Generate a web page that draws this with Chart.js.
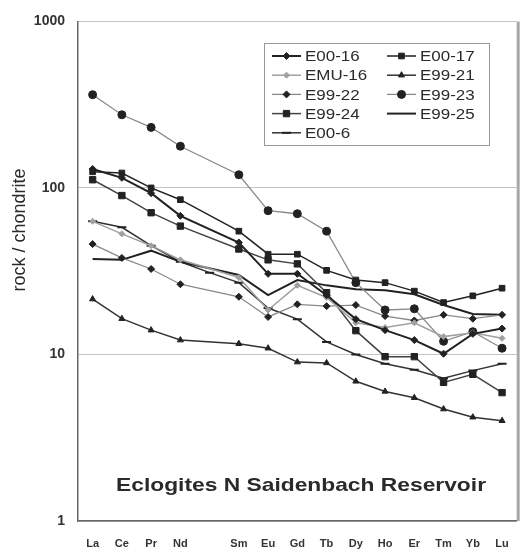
<!DOCTYPE html>
<html lang="en">
<head>
  <meta charset="UTF-8">
  <title>Eclogites N Saidenbach Reservoir</title>
  <script src="https://cdn.jsdelivr.net/npm/chart.js"></script>
  <style>
    body { margin: 0; background: #fff; }
    canvas { display: block; }
  </style>
</head>
<body>
  <canvas id="reeChart" width="525" height="553"></canvas>

  <script>
    // REE order, blank slot is Pm
    const elements = ['La', 'Ce', 'Pr', 'Nd', '', 'Sm', 'Eu', 'Gd', 'Tb', 'Dy', 'Ho', 'Er', 'Tm', 'Yb', 'Lu'];
    const yTicks = [1, 10, 100, 1000];

    const e00_16 = [130, 115, 93, 68, null, 47, 30.5, 30.5, 22.7, 16.3, 14, 12.2, 10.1, 13.3, 14.3];
    const e00_17 = [125, 123, 100, 85, null, 55, 40, 40, 32, 28, 27, 24, 20.5, 22.5, 25];
    const emu_16 = [63, 53, 45, 37, null, 29, 18.5, 26, 22, 15.5, 14.5, 15.5, 12.8, 13.5, 12.5];
    const e99_21 = [21.5, 16.4, 14, 12.2, null, 11.6, 10.9, 9, 8.9, 6.9, 6, 5.5, 4.7, 4.2, 4.0];
    const e99_22 = [46, 38, 32.6, 26.4, null, 22.2, 16.8, 20, 19.5, 19.8, 17, 16, 17.3, 16.4, 17.3];
    const e99_23 = [363, 275, 231, 178, null, 120, 73, 70, 55, 27, 18.5, 18.8, 12, 13.7, 10.9];
    const e99_24 = [112, 90, 71, 59, null, 43, 37, 35, 23.5, 13.9, 9.7, 9.7, 6.8, 7.6, 5.9];
    const e99_25 = [37.4, 37, 42, 36, null, 30, 22.7, 28, 26, 24.6, 24.3, 23, 19.8, 17.5, 17.3];
    const e00_6 = [63, 58, 45, 36, 31, 27, 19, 16.3, 11.9, 10, 8.8, 8.1, 7.2, 8, 8.8];

    const chartTitle = 'Eclogites N Saidenbach Reservoir';
    const yTitle = 'rock / chondrite';

    const dark = '#222';
    const grey = '#8a8a8a';
    const font = '"Liberation Sans", Arial, sans-serif';

    function series(label, data, line, lineWidth, style, radius, markColor) {
      return {
        label: label,
        data: data,
        borderColor: line,
        borderWidth: lineWidth,
        pointStyle: style,
        pointRadius: radius,
        pointBackgroundColor: markColor,
        pointBorderColor: markColor,
        pointBorderWidth: style === 'line' ? 2 : 1,
        spanGaps: true,
        tension: 0
      };
    }

    const datasets = [
      series('E00-16', e00_16, dark, 2, 'rectRot', 3.5, dark),
      series('E00-17', e00_17, dark, 1.5, 'rect', 4, dark),
      series('EMU-16', emu_16, '#a0a0a0', 1.5, 'rectRot', 3, '#a0a0a0'),
      series('E99-21', e99_21, '#333', 1.5, 'triangle', 3.5, dark),
      series('E99-22', e99_22, grey, 1.3, 'rectRot', 3.5, dark),
      series('E99-23', e99_23, grey, 1.3, 'circle', 4, dark),
      series('E99-24', e99_24, '#444', 1.5, 'rect', 4.5, dark),
      series('E99-25', e99_25, dark, 2, 'circle', 0, dark),
      series('E00-6', e00_6, '#333', 1.5, 'line', 4.5, dark)
    ];

    // text drawn a little wider, like the reference
    function wideText(ctx, text, x, y, sx) {
      ctx.save();
      ctx.translate(x, y);
      ctx.scale(sx, 1);
      ctx.fillText(text, 0, 0);
      ctx.restore();
    }

    // legend box, title text and y title drawn by hand
    const extras = {
      id: 'extras',
      afterDraw(chart) {
        const ctx = chart.ctx;
        const area = chart.chartArea;
        ctx.save();

        // right frame edge
        ctx.strokeStyle = '#a8a8a8';
        ctx.lineWidth = 3;
        ctx.beginPath();
        ctx.moveTo(area.right + 1.5, area.top);
        ctx.lineTo(area.right + 1.5, area.bottom);
        ctx.stroke();

        // title inside plot
        ctx.fillStyle = '#2a2a2a';
        ctx.font = 'bold 19px ' + font;
        ctx.textAlign = 'center';
        ctx.textBaseline = 'middle';
        wideText(ctx, chartTitle, 301, 486, 1.2);

        // y axis title
        ctx.save();
        ctx.translate(20, 230);
        ctx.rotate(-Math.PI / 2);
        ctx.font = '18px ' + font;
        ctx.fillText(yTitle, 0, 0);
        ctx.restore();

        // legend
        const box = { x: 264, y: 43, w: 225, h: 102 };
        ctx.fillStyle = '#fff';
        ctx.fillRect(box.x, box.y, box.w, box.h);
        ctx.strokeStyle = '#999';
        ctx.lineWidth = 1;
        ctx.strokeRect(box.x + 0.5, box.y + 0.5, box.w, box.h);

        ctx.font = '15px ' + font;
        ctx.textAlign = 'left';
        chart.data.datasets.forEach((ds, i) => {
          const col = i % 2;
          const row = Math.floor(i / 2);
          const x0 = col === 0 ? 272 : 387;
          const y = 56 + row * 19.2;
          ctx.strokeStyle = ds.borderColor;
          ctx.lineWidth = ds.borderWidth;
          ctx.beginPath();
          ctx.moveTo(x0, y);
          ctx.lineTo(x0 + 29, y);
          ctx.stroke();
          if (ds.pointRadius > 0) {
            ctx.fillStyle = ds.pointBackgroundColor;
            ctx.strokeStyle = ds.pointBorderColor;
            ctx.lineWidth = ds.pointBorderWidth;
            Chart.helpers.drawPoint(ctx, {
              pointStyle: ds.pointStyle,
              radius: ds.pointRadius,
              rotation: 0,
              borderWidth: ds.pointBorderWidth
            }, x0 + 14.5, y);
          }
          ctx.fillStyle = '#2a2a2a';
          wideText(ctx, ds.label, x0 + 33, y + 1, 1.13);
        });

        ctx.restore();
      }
    };

    const ctx = document.getElementById('reeChart').getContext('2d');

    new Chart(ctx, {
      type: 'line',
      data: {
        labels: elements,
        datasets: datasets
      },
      options: {
        responsive: false,
        maintainAspectRatio: false,
        animation: false,
        layout: { padding: { top: 17, right: 5, left: 0, bottom: 0 } },
        plugins: {
          legend: { display: false },
          tooltip: { enabled: false }
        },
        scales: {
          x: {
            offset: true,
            grid: { display: false, drawTicks: false },
            border: { color: '#666', width: 1.5 },
            ticks: {
              color: '#333',
              padding: 16,
              maxRotation: 0,
              autoSkip: false,
              font: { family: font, size: 11, weight: 'bold' }
            },
            afterFit(scale) { scale.height = 32; }
          },
          y: {
            type: 'logarithmic',
            min: 1,
            max: 1000,
            grid: { color: '#c4c4c4', lineWidth: 1, drawTicks: false },
            border: { color: '#666', width: 1.5 },
            ticks: {
              color: '#333',
              padding: 13,
              font: { family: font, size: 14, weight: 'bold' },
              callback: (v) => String(v)
            },
            afterBuildTicks(scale) {
              scale.ticks = yTicks.map(v => ({ value: v }));
            },
            afterFit(scale) { scale.width = 78; }
          }
        }
      },
      plugins: [extras]
    });
  </script>
</body>
</html>
